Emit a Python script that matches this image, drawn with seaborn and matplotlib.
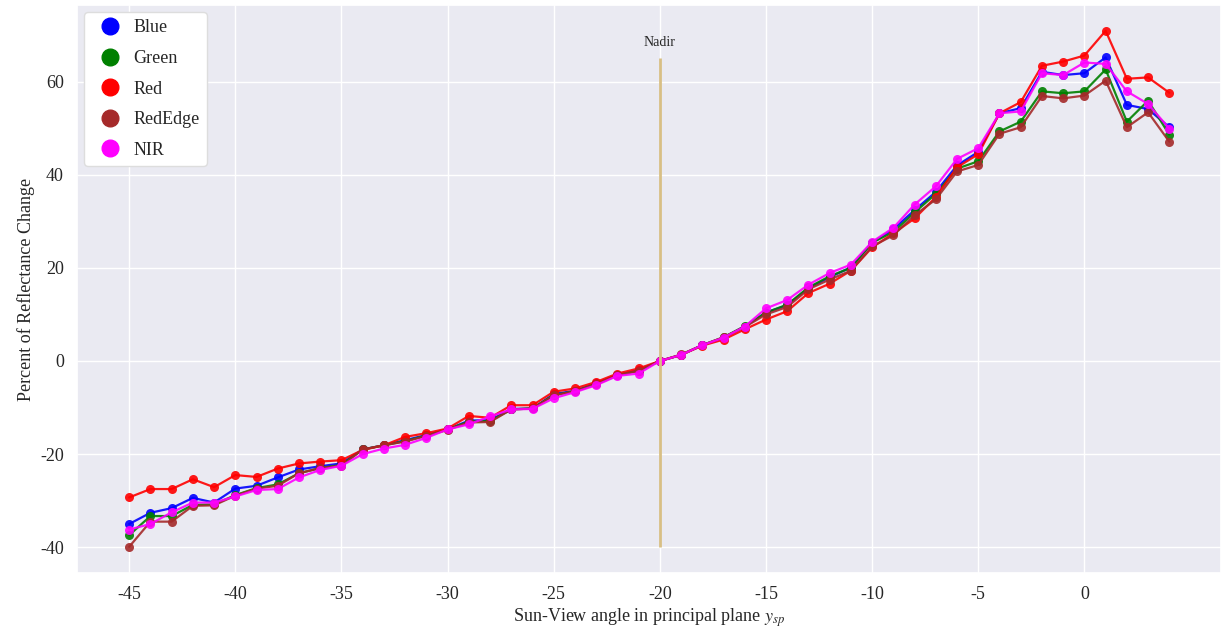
import numpy as np
import pandas as pd
import matplotlib
matplotlib.use("Agg")
import matplotlib.pyplot as plt
from matplotlib.lines import Line2D
import seaborn as sns

# sun-view angle, one point per degree
angles = list(range(-45, 5))

blue = [-35.0, -32.6, -31.6, -29.4, -30.4, -27.4, -26.8, -25.0, -23.3, -22.6,
        -22.0, -19.0, -18.1, -17.0, -15.9, -14.7, -12.8, -12.7, -10.3, -10.2,
        -7.1, -6.4, -4.8, -3.0, -2.0, 0.0, 1.3, 3.4, 5.0, 7.4,
        10.4, 12.0, 15.6, 18.0, 20.1, 25.4, 28.3, 32.4, 36.3, 42.0,
        44.9, 53.2, 54.3, 62.1, 61.4, 61.8, 65.2, 55.0, 54.1, 50.2]
green = [-37.4, -33.3, -33.3, -30.9, -30.8, -28.8, -27.3, -26.5, -24.1, -23.0,
         -22.3, -19.0, -18.1, -17.2, -16.0, -14.7, -13.0, -12.9, -10.4, -10.2,
         -7.3, -6.5, -4.9, -3.0, -2.1, 0.0, 1.3, 3.4, 5.1, 7.5,
         10.4, 12.1, 15.8, 18.2, 20.0, 25.4, 27.7, 31.9, 35.9, 41.3,
         42.9, 49.3, 51.4, 57.9, 57.5, 57.9, 62.6, 51.4, 55.9, 48.6]
red = [-29.3, -27.5, -27.5, -25.4, -27.1, -24.5, -24.9, -23.1, -22.0, -21.6,
       -21.3, -19.1, -18.1, -16.3, -15.5, -14.5, -11.8, -12.2, -9.5, -9.5,
       -6.6, -5.9, -4.5, -2.7, -1.6, 0.0, 1.3, 3.3, 4.6, 6.8,
       8.9, 10.7, 14.6, 16.6, 19.4, 24.4, 27.4, 30.6, 35.2, 41.6,
       44.4, 53.2, 55.6, 63.4, 64.3, 65.6, 70.9, 60.6, 60.9, 57.6]
rededge = [-39.9, -34.5, -34.5, -31.1, -31.0, -28.9, -27.4, -26.8, -24.1, -23.0,
           -22.5, -19.0, -18.1, -17.3, -16.1, -14.8, -13.2, -13.1, -10.4, -10.2,
           -7.4, -6.5, -5.0, -3.1, -2.1, 0.0, 1.4, 3.4, 5.1, 7.3,
           10.0, 11.6, 15.4, 17.5, 19.4, 24.6, 27.0, 31.3, 34.7, 40.7,
           42.1, 48.8, 50.2, 56.9, 56.4, 57.0, 60.2, 50.2, 53.4, 47.1]
nir = [-36.2, -35.0, -32.5, -30.4, -30.4, -29.1, -27.7, -27.5, -25.0, -23.4,
       -22.5, -20.0, -18.8, -18.0, -16.5, -14.7, -13.6, -11.9, -10.4, -10.3,
       -8.0, -6.7, -5.2, -3.2, -2.7, 0.0, 1.3, 3.4, 5.0, 7.4,
       11.3, 13.1, 16.4, 18.9, 20.7, 25.6, 28.6, 33.6, 37.5, 43.4,
       45.7, 53.2, 53.6, 61.8, 61.4, 64.1, 63.8, 57.9, 55.2, 49.9]

bands = ["Blue", "Green", "Red", "RedEdge", "NIR"]
colors = ["blue", "green", "red", "brown", "magenta"]
nadir_angle = -20

df = pd.DataFrame({"angle": angles * 5,
                   "band": np.repeat(bands, len(angles)),
                   "change": blue + green + red + rededge + nir})

sns.set_theme(style="darkgrid")
plt.rcParams['font.family'] = ['Liberation Serif', 'DejaVu Serif']
plt.rcParams['mathtext.fontset'] = 'stix'
plt.rcParams['axes.unicode_minus'] = False

fig, ax = plt.subplots(figsize=(12.25, 6.27), dpi=100)
sns.lineplot(data=df, x="angle", y="change", hue="band", palette=dict(zip(bands, colors)),
             marker="o", markersize=6.5, markeredgewidth=0, linewidth=1.6, alpha=0.9,
             legend=False, ax=ax)

# nadir marker line
ax.vlines(nadir_angle, -40, 65, color="#d8bf85", linewidth=2)
ax.text(nadir_angle, 67, "Nadir", ha="center", va="bottom", fontsize=10)

ax.set_xticks(range(-45, 1, 5))
ax.set_yticks(range(-40, 61, 20))
ax.tick_params(labelsize=13)
ax.set_xlabel("Sun-View angle in principal plane $y_{sp}$", fontsize=13, labelpad=2)
ax.set_ylabel("Percent of Reflectance Change", fontsize=13)

handles = [Line2D([], [], marker="o", linestyle="", color=c, markersize=12) for c in colors]
leg = ax.legend(handles, bands, loc="upper left", fontsize=13, labelspacing=0.75,
                handletextpad=0.3, frameon=True, facecolor="white", framealpha=1,
                borderaxespad=0.4)
leg.get_frame().set_edgecolor("#dddddd")

plt.subplots_adjust(left=0.063, right=0.997, top=0.992, bottom=0.086)
plt.savefig("out.png", dpi=100)
